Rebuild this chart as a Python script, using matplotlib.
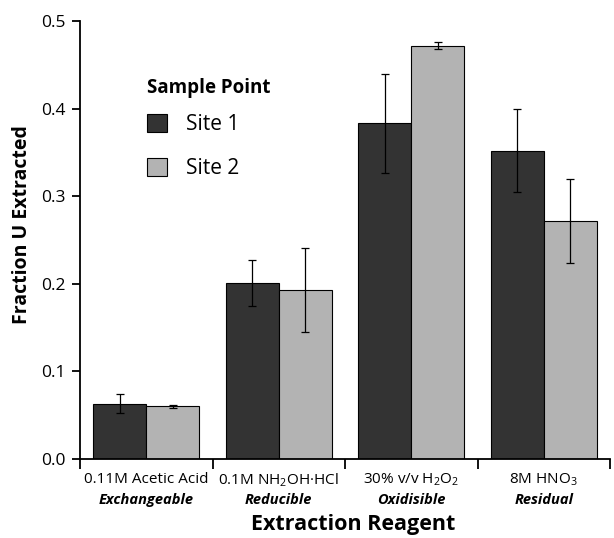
import matplotlib
matplotlib.use('Agg')
import matplotlib.pyplot as plt
from matplotlib.transforms import blended_transform_factory

# data
reagents = ['0.11M Acetic Acid', '0.1M NH$_2$OH·HCl', '30% v/v H$_2$O$_2$', '8M HNO$_3$']
fractions = ['Exchangeable', 'Reducible', 'Oxidisible', 'Residual']
site1 = [0.063, 0.201, 0.383, 0.352]
site1_err = [0.011, 0.026, 0.056, 0.047]
site2 = [0.060, 0.193, 0.472, 0.272]
site2_err = [0.002, 0.048, 0.0045, 0.048]
yticks = [0.0, 0.1, 0.2, 0.3, 0.4, 0.5]

plt.rcParams['font.family'] = ['Open Sans', 'DejaVu Sans']
plt.rcParams['mathtext.fontset'] = 'custom'
plt.rcParams['mathtext.rm'] = 'Open Sans'
plt.rcParams['mathtext.it'] = 'Open Sans:italic'
plt.rcParams['mathtext.bf'] = 'Open Sans:bold'

W, H = 614, 538
fig = plt.figure(figsize=(W / 100, H / 100), dpi=100)
ax = fig.add_axes([80 / W, (H - 459) / H, 530 / W, 438 / H])

x = list(range(len(reagents)))
w = 0.4
ekw = dict(ecolor='black', elinewidth=0.9, capsize=3, capthick=0.9)
ax.bar([i - w/2 for i in x], site1, w, yerr=site1_err, color='#333333',
       edgecolor='black', linewidth=0.8, label='Site 1', error_kw=ekw)
ax.bar([i + w/2 for i in x], site2, w, yerr=site2_err, color='#b3b3b3',
       edgecolor='black', linewidth=0.8, label='Site 2', error_kw=ekw)

ax.set_xlim(-0.5, 3.4)
ax.set_ylim(0, 0.5)
ax.spines['top'].set_visible(False)
ax.spines['right'].set_visible(False)
ax.spines['left'].set_linewidth(1.3)
ax.spines['bottom'].set_linewidth(1.3)

ax.set_yticks(yticks)
ax.set_yticklabels([f'{v:.1f}' for v in yticks], fontsize=12.5)
ax.tick_params(axis='y', direction='out', length=6, width=1.3, pad=4)

ax.set_xticks([])
ax.set_xticks([-0.5, 0.5, 1.5, 2.5, 3.5], minor=True)
ax.tick_params(axis='x', which='minor', direction='out', length=7, width=1.3)

tr = blended_transform_factory(ax.transData, ax.transAxes)
for i in x:
    ax.text(i, -0.029, reagents[i], transform=tr, ha='center', va='top', fontsize=11)
    ax.text(i, -0.077, fractions[i], transform=tr, ha='center', va='top',
            fontsize=10.5, fontweight='bold', fontstyle='italic')

fig.text(22 / W, 1 - 225 / H, 'Fraction U Extracted', rotation=90, ha='center',
         va='center', fontsize=14, fontweight='bold')
fig.text(353 / W, 1 - 530 / H, 'Extraction Reagent', ha='center', va='baseline',
         fontsize=15.5, fontweight='bold')

# legend: title drawn as its own text, entries as a frameless legend
fig.text(147 / W, 1 - 93 / H, 'Sample Point', ha='left', va='baseline',
         fontsize=13.5, fontweight='bold')
ax.legend(frameon=False, loc='upper left', bbox_to_anchor=(147 / W, 1 - 114 / H),
          bbox_transform=fig.transFigure, fontsize=15, handlelength=0.96,
          handleheight=0.96, handletextpad=0.9, labelspacing=1.08,
          borderpad=0, borderaxespad=0)

fig.savefig('out.png', dpi=100)
